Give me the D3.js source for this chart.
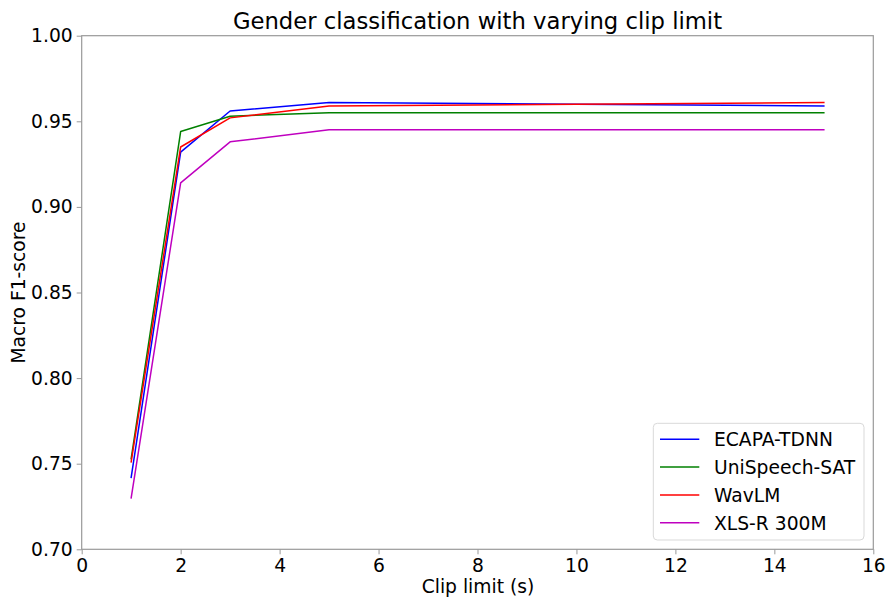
<!DOCTYPE html>
<html>
<head>
<meta charset="utf-8">
<script src="https://cdn.jsdelivr.net/npm/d3@7"></script>
<style>
  html, body { margin: 0; padding: 0; background: #fff; }
  svg { display: block; font-family: "DejaVu Sans", sans-serif; }
</style>
</head>
<body>
<svg id="chart" width="889" height="599"></svg>
<script>
const clipLimits = [1, 2, 3, 5, 10, 15];
const ecapa = [0.742, 0.932, 0.956, 0.961, 0.960, 0.959];
const unispeech = [0.753, 0.944, 0.953, 0.955, 0.955, 0.955];
const wavlm = [0.751, 0.935, 0.952, 0.959, 0.960, 0.961];
const xlsr = [0.730, 0.914, 0.938, 0.945, 0.945, 0.945];
const seriesNames = ["ECAPA-TDNN", "UniSpeech-SAT", "WavLM", "XLS-R 300M"];
const seriesColors = ["#0000ff", "#008000", "#ff0000", "#bf00bf"];
const xTicks = [0, 2, 4, 6, 8, 10, 12, 14, 16];
const yTicks = [0.70, 0.75, 0.80, 0.85, 0.90, 0.95, 1.00];

const series = [ecapa, unispeech, wavlm, xlsr];

const svg = d3.select("#chart");
const m = { left: 81.7, right: 873.3, top: 35.7, bottom: 549.3 };
const x = d3.scaleLinear().domain([0, 16]).range([m.left, m.right]);
const y = d3.scaleLinear().domain([0.70, 1.00]).range([m.bottom, m.top]);
const spine = "#999999";
const fs = "18.7px";

// lines
const line = d3.line().x((d, i) => x(clipLimits[i])).y(d => y(d));
series.forEach((s, k) => {
  svg.append("path").datum(s)
    .attr("d", line)
    .attr("fill", "none")
    .attr("stroke", seriesColors[k])
    .attr("stroke-width", 1.5)
    .attr("stroke-linejoin", "round")
    .attr("stroke-linecap", "square");
});

// axes
const xAxis = d3.axisBottom(x).tickValues(xTicks).tickFormat(d3.format("d")).tickSize(5).tickPadding(4);
const yAxis = d3.axisLeft(y).tickValues(yTicks).tickFormat(d3.format(".2f")).tickSize(5).tickPadding(4);

const gx = svg.append("g").attr("transform", `translate(0,${m.bottom})`).call(xAxis);
const gy = svg.append("g").attr("transform", `translate(${m.left},0)`).call(yAxis);
[gx, gy].forEach(g => {
  g.select(".domain").remove();
  g.selectAll(".tick line").attr("stroke", spine).attr("stroke-width", 1);
  g.selectAll(".tick text").attr("fill", "#000").style("font-size", fs).style("font-family", "DejaVu Sans");
});

// spines
svg.append("rect")
  .attr("x", m.left).attr("y", m.top)
  .attr("width", m.right - m.left).attr("height", m.bottom - m.top)
  .attr("fill", "none").attr("stroke", spine).attr("stroke-width", 1.2);

// title and labels
svg.append("text").attr("x", (m.left + m.right) / 2).attr("y", 29)
  .attr("text-anchor", "middle").style("font-size", "22.7px").text("Gender classification with varying clip limit");
svg.append("text").attr("x", (m.left + m.right) / 2 + 0.5).attr("y", 592.5)
  .attr("text-anchor", "middle").style("font-size", fs).text("Clip limit (s)");
svg.append("text").attr("transform", `translate(25,${(m.top + m.bottom) / 2}) rotate(-90)`)
  .attr("text-anchor", "middle").style("font-size", fs).text("Macro F1-score");

// legend
const lg = svg.append("g");
lg.append("rect").attr("x", 653.3).attr("y", 423.3).attr("width", 210.7).attr("height", 116.7)
  .attr("rx", 4).attr("fill", "#fff").attr("fill-opacity", 0.8).attr("stroke", "#d9d9d9").attr("stroke-width", 1);
seriesNames.forEach((name, k) => {
  const cy = 439.3 + k * 27.8;
  lg.append("line").attr("x1", 660).attr("x2", 699.3).attr("y1", cy).attr("y2", cy)
    .attr("stroke", seriesColors[k]).attr("stroke-width", 1.5);
  lg.append("text").attr("x", 714).attr("y", cy + 7).style("font-size", fs).text(name);
});
</script>
</body>
</html>
